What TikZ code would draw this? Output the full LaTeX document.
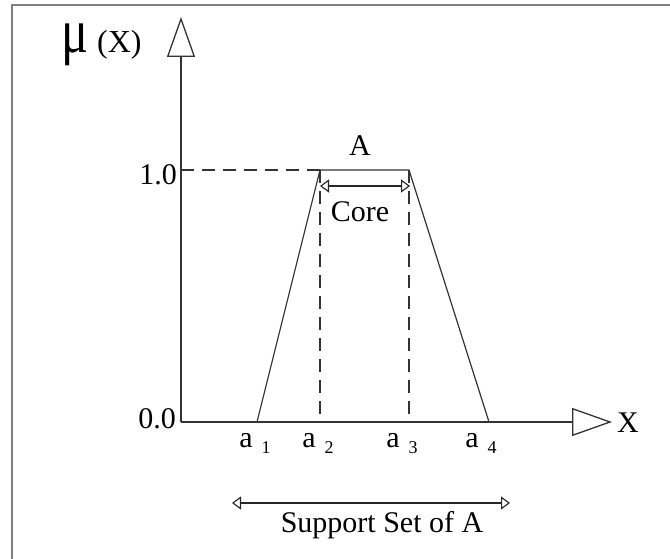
\documentclass[tikz,border=0pt]{standalone}
\usepackage{fontspec}
\setmainfont{Liberation Serif}
\usetikzlibrary{arrows.meta}

\tikzset{
  axis/.style={draw=black!80,line width=1.2pt,-{Triangle[open,length=40pt,width=28pt,line width=1.3pt]}},
  curve/.style={draw=black!80,line width=1.2pt},
  dashline/.style={draw=black!80,line width=1.1pt,dash pattern=on 13pt off 8pt},
  dim/.style={draw=black!85,line width=1.1pt,{Triangle[open,length=9pt,width=13pt]}-{Triangle[open,length=9pt,width=13pt]}},
  lbl/.style={inner sep=0pt,font=\fontsize{30}{30}\selectfont},
}

\begin{document}
\begin{tikzpicture}[x=1pt,y=-1pt]
  \useasboundingbox (0,0) rectangle (670,559);
  % frame
  \draw[gray,line width=2pt] (12,559) -- (12,5) -- (670,5);

  % axes
  \coordinate (O) at (181,422);
  \coordinate (ytop) at (181,17);
  \coordinate (xend) at (612,422);
  \coordinate (y1) at (181,170);
  \draw[axis] (O) -- (ytop);
  \draw[axis] (O) -- (xend);

  % feet and plateau of A
  \coordinate (a1) at (257,422);
  \coordinate (a2) at (320,422);
  \coordinate (a3) at (409,422);
  \coordinate (a4) at (489,422);
  \coordinate (p2) at (320,170);
  \coordinate (p3) at (409,170);
  \draw[curve] (a1) -- (p2) -- (p3) -- (a4);
  \draw[dashline] (y1) -- (p2);
  \draw[dashline] (p2) -- (a2);
  \draw[dashline] (p3) -- (a3);

  % core and support
  \coordinate (c2) at (320,186);
  \coordinate (c3) at (410,186);
  \draw[dim] (c2) -- (c3);
  \coordinate (s1) at (232,503);
  \coordinate (s4) at (510,503);
  \draw[dim] (s1) -- (s4);

  % labels
  \node[lbl,anchor=base west] (mu) at (61,53)
    {\scalebox{1.05}[1.3]{\fontsize{48}{48}\selectfont μ}\hspace{9pt}{\fontsize{32}{32}\selectfont (X)}};
  \node[lbl,anchor=base west] (xlab) at (617,432){X};
  \node[lbl,anchor=base east] (one) at (177,185){1.0};
  \node[lbl,anchor=base east] (zero) at (176,428){0.0};
  \node[lbl,anchor=base] (Alab) at (360,156){A};
  \node[lbl,anchor=base] (core) at (360,222){Core};
  \node[lbl,anchor=base] (supp) at (382,532){Support Set of A};
  \foreach \i/\x in {1/255,2/318,3/402,4/481}
    \node[lbl,anchor=base] (la\i) at (\x,447)
      {a\hspace{9pt}\raisebox{-6pt}{\fontsize{18}{18}\selectfont\i}};
\end{tikzpicture}
\end{document}
